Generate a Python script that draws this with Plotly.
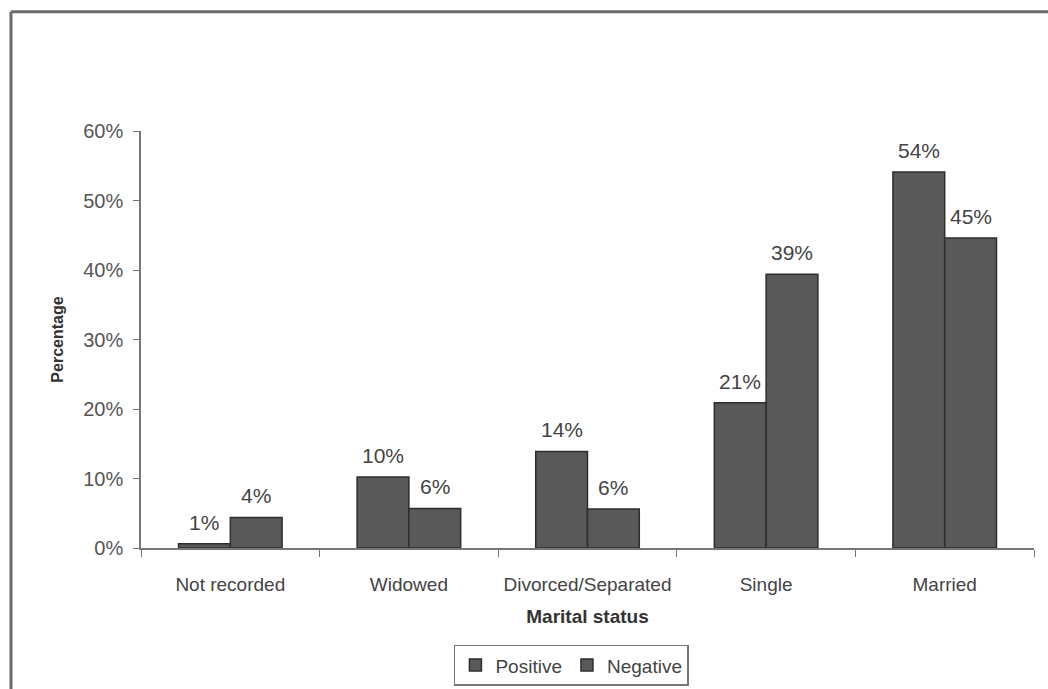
import plotly.graph_objects as go

# Marital status of respondents by test result (share of each group)
categories = ["Not recorded", "Widowed", "Divorced/Separated", "Single", "Married"]
positive = [0.006, 0.102, 0.139, 0.209, 0.541]
negative = [0.044, 0.057, 0.056, 0.394, 0.446]
y_ticks = [0, 0.1, 0.2, 0.3, 0.4, 0.5, 0.6]
y_tick_labels = ["0%", "10%", "20%", "30%", "40%", "50%", "60%"]

BAR_FILL = "#595959"
BAR_LINE = "#2e2e2e"
FONT = "Liberation Sans, Arial, sans-serif"
BARGAP = 0.42

fig = go.Figure()
for name, vals in (("Positive", positive), ("Negative", negative)):
    fig.add_trace(go.Bar(
        name=name, x=categories, y=vals,
        marker=dict(color=BAR_FILL, line=dict(color=BAR_LINE, width=1.5)),
    ))

# value labels above each bar, offset to the bar's slot within the group
slot = (1 - BARGAP) / 4
for k, vals in enumerate((positive, negative)):
    sign = -1 if k == 0 else 1
    for i, v in enumerate(vals):
        fig.add_annotation(
            x=i + sign * slot, y=v, xref="x", yref="y",
            text=f"{v:.0%}", showarrow=False,
            yanchor="bottom", yshift=8,
            font=dict(family=FONT, size=21, color="#444444"),
        )

# outer frame (left and top edges)
frame = dict(color="#6a6a6a", width=3)
fig.add_shape(type="line", xref="paper", yref="paper",
              x0=-0.1456, x1=-0.1456, y0=-0.34, y1=1.286, line=frame)
fig.add_shape(type="line", xref="paper", yref="paper",
              x0=-0.1456, x1=1.02, y0=1.286, y1=1.286, line=frame)

fig.update_layout(
    width=1048, height=689,
    margin=dict(l=141, r=14, t=131, b=141, autoexpand=False),
    paper_bgcolor="white", plot_bgcolor="white",
    barmode="group", bargap=BARGAP, bargroupgap=0,
    font=dict(family=FONT, color="#444444"),
    showlegend=True,
    legend=dict(
        orientation="h", x=0.482, y=-0.232, xanchor="center", yanchor="top",
        bordercolor="#777777", borderwidth=1.5,
        font=dict(family=FONT, size=19, color="#444444"),
        itemwidth=30, traceorder="normal",
    ),
    xaxis=dict(
        type="category", showline=True, linecolor="#777777", linewidth=1.5,
        ticks="outside", tickson="boundaries", ticklen=7, tickcolor="#777777",
        ticklabelstandoff=18, tickangle=0, automargin=False,
        tickfont=dict(family=FONT, size=19, color="#444444"),
        title=dict(text="<b>Marital status</b>", standoff=16,
                   font=dict(family=FONT, size=19, color="#333333")),
        showgrid=False,
    ),
    yaxis=dict(
        range=[0, 0.6], tickvals=y_ticks, ticktext=y_tick_labels,
        showline=True, linecolor="#777777", linewidth=1.5,
        ticks="outside", ticklen=6, tickcolor="#777777",
        ticklabelstandoff=6, automargin=False,
        tickfont=dict(family=FONT, size=20, color="#555555"),
        title=dict(text="<b>Percentage</b>", standoff=16,
                   font=dict(family=FONT, size=16, color="#333333")),
        showgrid=False, zeroline=False,
    ),
)

fig.write_html("out.html")
